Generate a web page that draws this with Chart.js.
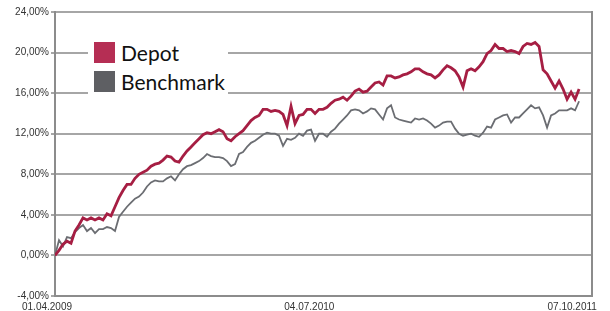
<!DOCTYPE html>
<html>
<head>
<meta charset="utf-8">
<script src="https://cdn.jsdelivr.net/npm/chart.js@4.4.1/dist/chart.umd.min.js"></script>
<style>
    html, body { margin: 0; padding: 0; background: #fff; }
    #wrap { position: relative; width: 610px; height: 311px; }
    #legend {
        position: absolute; left: 88px; top: 37px; width: 140px; height: 62px;
        background: #fff; font-family: Lato, sans-serif; font-size: 21px; color: #111;
    }
    .item { position: absolute; left: 6px; height: 21px; line-height: 21px; white-space: nowrap; }
    .sw { display: inline-block; width: 21px; height: 21px; vertical-align: top; margin-right: 6px; }
</style>
</head>
<body>
<div id="wrap">
    <canvas id="chart" width="610" height="311"></canvas>
    <div id="legend"></div>
</div>
<script>
// weekly values, 01.04.2009 - 07.10.2011, in %
var depot = [0, 0.5, 1.1, 1.4, 1.2, 2.4, 3.0, 3.7, 3.5, 3.7,
    3.5, 3.7, 3.5, 4.1, 3.9, 4.8, 5.7, 6.4, 7.0, 7.0,
    7.6, 8.0, 8.2, 8.4, 8.8, 9.0, 9.1, 9.4, 9.8, 9.7,
    9.3, 9.2, 9.8, 10.3, 10.7, 11.1, 11.5, 11.9, 12.1, 12.0,
    12.2, 12.4, 12.2, 11.5, 11.3, 11.7, 12.0, 12.3, 12.8, 13.3,
    13.6, 13.8, 14.4, 14.4, 14.2, 14.3, 14.2, 13.9, 12.8, 14.7,
    13.0, 13.8, 13.9, 14.4, 14.4, 14.0, 14.4, 14.4, 14.6, 15.0,
    15.3, 15.4, 15.6, 15.3, 15.7, 16.2, 16.4, 16.1, 16.2, 16.6,
    17.0, 17.1, 16.8, 17.7, 17.7, 17.5, 17.6, 17.8, 17.9, 18.1,
    18.4, 18.4, 18.1, 17.9, 17.8, 17.5, 17.8, 18.3, 18.7, 18.5,
    18.2, 17.6, 16.6, 18.2, 18.4, 18.2, 18.6, 19.1, 19.9, 20.2,
    20.8, 20.4, 20.4, 20.1, 20.2, 20.1, 19.9, 20.6, 20.9, 20.8,
    21.0, 20.6, 18.3, 17.9, 17.2, 16.5, 17.2, 16.4, 15.4, 16.1,
    15.4, 16.4];

var benchmark = [0, 1.5, 0.9, 1.8, 1.7, 2.3, 2.7, 3.0, 2.4, 2.7,
    2.2, 2.6, 2.6, 2.8, 2.7, 2.4, 3.8, 4.3, 4.8, 5.2,
    5.6, 5.8, 6.2, 6.8, 7.2, 7.4, 7.3, 7.3, 7.6, 7.8,
    7.4, 8.0, 8.5, 8.8, 8.9, 9.1, 9.3, 9.6, 10.0, 9.8,
    9.7, 9.7, 9.6, 9.3, 8.8, 9.0, 10.0, 10.2, 10.7, 11.1,
    11.3, 11.6, 11.9, 12.1, 12.0, 12.0, 11.8, 10.8, 11.5, 11.4,
    11.6, 12.0, 11.8, 12.3, 12.4, 11.3, 12.0, 12.0, 11.7, 12.2,
    12.5, 13.0, 13.4, 13.8, 14.3, 14.4, 14.3, 14.0, 14.2, 14.5,
    14.4, 13.9, 13.4, 14.5, 14.8, 13.6, 13.4, 13.3, 13.2, 13.1,
    13.5, 13.4, 13.5, 13.3, 13.0, 12.6, 12.8, 13.1, 13.2, 13.2,
    12.5, 12.0, 11.8, 11.9, 12.0, 11.8, 11.7, 12.1, 12.7, 12.6,
    13.4, 13.6, 13.8, 13.9, 13.1, 13.6, 13.6, 14.0, 14.4, 14.8,
    14.5, 14.6, 13.8, 12.6, 13.8, 14.0, 14.3, 14.3, 14.3, 14.5,
    14.3, 15.2];

var xTickLabels = ['01.04.2009', '04.07.2010', '07.10.2011'];
var yTicks = [-4, 0, 4, 8, 12, 16, 20, 24];

var seriesNames = ['Depot', 'Benchmark'];
var lineColors = ['#a61e43', '#6b6d72'];
var swatchColors = ['#b52e54', '#5e5f63'];

function toDate(s) {
    var p = s.split('.');
    return new Date(+p[2], +p[1] - 1, +p[0]);
}
// tick dates expressed in weeks since the first date
var start = toDate(xTickLabels[0]);
var xTickWeeks = xTickLabels.map(function (s) {
    return Math.round((toDate(s) - start) / 86400000) / 7;
});

function points(values) {
    return values.map(function (v, i) { return { x: i, y: v }; });
}

var axisColor = '#8c8c8c';
var gridColor = '#a6a6a6';
var tickFont = { family: '"Liberation Sans", Arial, sans-serif', size: 10 };

new Chart(document.getElementById('chart'), {
    type: 'line',
    data: {
        datasets: [{
            label: seriesNames[0],
            data: points(depot),
            borderColor: lineColors[0],
            borderWidth: 2.8,
            pointRadius: 0,
            tension: 0
        }, {
            label: seriesNames[1],
            data: points(benchmark),
            borderColor: lineColors[1],
            borderWidth: 1.8,
            pointRadius: 0,
            tension: 0
        }]
    },
    options: {
        responsive: false,
        animation: false,
        layout: { padding: { left: 0, right: 6, top: 12, bottom: 0 } },
        plugins: { legend: { display: false }, tooltip: { enabled: false } },
        scales: {
            x: {
                type: 'linear',
                min: 0,
                max: 134.2,
                grid: { display: false, drawTicks: false, tickLength: 0 },
                border: { display: true, color: axisColor, width: 2 },
                afterBuildTicks: function (axis) {
                    axis.ticks = xTickWeeks.map(function (w) { return { value: w }; });
                },
                afterFit: function (axis) { axis.height = 15; },
                ticks: {
                    autoSkip: false,
                    maxRotation: 0,
                    padding: 5,
                    labelOffset: -8,
                    color: '#333',
                    font: tickFont,
                    callback: function (v, i) { return xTickLabels[i]; }
                }
            },
            y: {
                min: -4,
                max: 24,
                afterBuildTicks: function (axis) {
                    axis.ticks = yTicks.map(function (v) { return { value: v }; });
                },
                afterFit: function (axis) { axis.width = 55; },
                grid: { color: gridColor, lineWidth: 2, tickLength: 4 },
                border: { display: true, color: axisColor, width: 2 },
                ticks: {
                    padding: 2,
                    color: '#333',
                    font: tickFont,
                    callback: function (v) { return v.toFixed(2).replace('.', ',') + '%'; }
                }
            },
            yRight: {
                position: 'right',
                display: true,
                grid: { display: false },
                border: { display: true, color: axisColor, width: 2 },
                ticks: { display: false },
                afterFit: function (axis) { axis.width = 0; }
            }
        }
    }
});

var legend = document.getElementById('legend');
seriesNames.forEach(function (name, i) {
    var item = document.createElement('div');
    item.className = 'item';
    item.style.top = (5 + i * 29) + 'px';
    item.innerHTML = '<span class="sw" style="background:' + swatchColors[i] + '"></span>' + name;
    legend.appendChild(item);
});
</script>
</body>
</html>
